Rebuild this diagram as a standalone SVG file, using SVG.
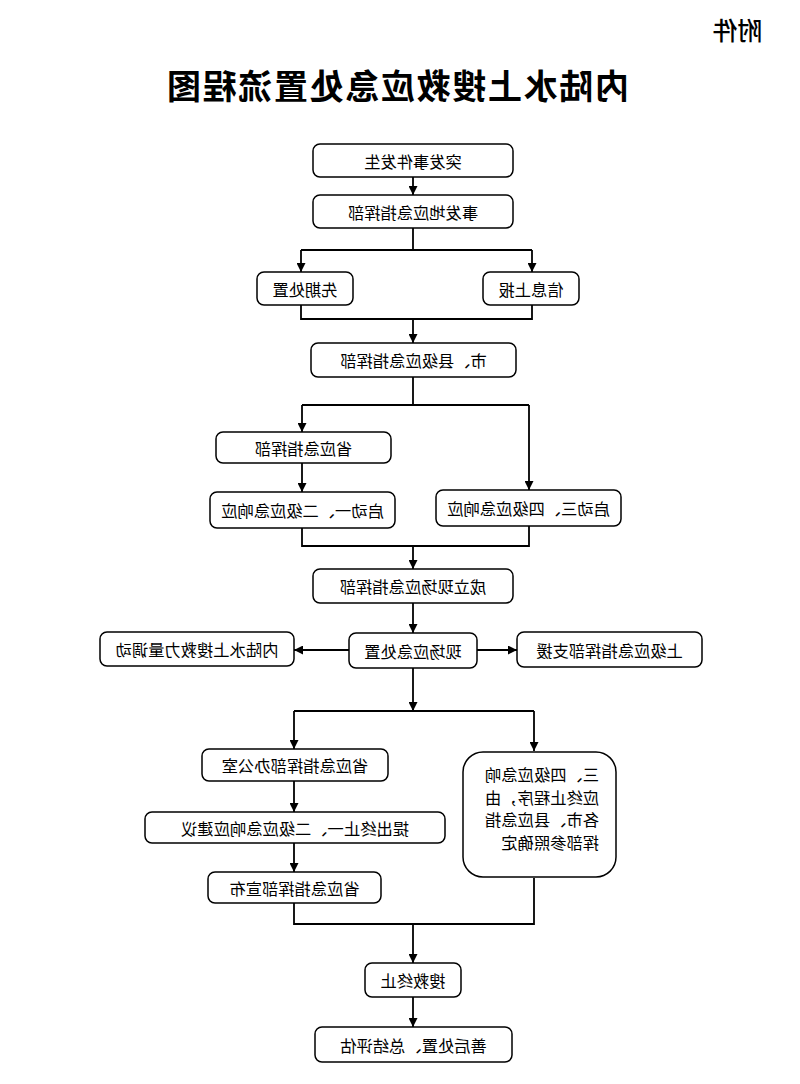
<svg xmlns="http://www.w3.org/2000/svg" width="800" height="1084" viewBox="0 0 800 1084">
<style>
.box{fill:#fff;stroke:#000;stroke-width:1.5}
.ln{fill:none;stroke:#000;stroke-width:1.8}
.t{font-family:"Noto Sans CJK SC","Noto Sans CJK JP",sans-serif;font-size:16.3px;fill:#000;text-anchor:middle;dominant-baseline:central}
.tl{font-family:"Noto Sans CJK SC","Noto Sans CJK JP",sans-serif;font-size:16.3px;fill:#000;text-anchor:start;dominant-baseline:central}
</style>
<defs>
<marker id="ah" viewBox="0 0 10 10" refX="10" refY="5" markerWidth="9" markerHeight="9" markerUnits="userSpaceOnUse" orient="auto">
<path d="M0,0 L10,5 L0,10 Z" fill="#000"/>
</marker>
</defs>
<rect width="800" height="1084" fill="#fff"/>

<g id="connectors">
<path class="ln" d="M413,177 V195" marker-end="url(#ah)"/>
<path class="ln" d="M413,228 V250 M301,250 H532"/>
<path class="ln" d="M301,250 V272" marker-end="url(#ah)"/>
<path class="ln" d="M532,250 V272" marker-end="url(#ah)"/>
<path class="ln" d="M301,305 V319 H532 V305"/>
<path class="ln" d="M413,319 V343" marker-end="url(#ah)"/>
<path class="ln" d="M413,377 V405 M302,405 H529"/>
<path class="ln" d="M302,405 V432" marker-end="url(#ah)"/>
<path class="ln" d="M529,405 V490" marker-end="url(#ah)"/>
<path class="ln" d="M302,463 V492" marker-end="url(#ah)"/>
<path class="ln" d="M302,528 V546 H529 V526"/>
<path class="ln" d="M413,546 V569" marker-end="url(#ah)"/>
<path class="ln" d="M413,603 V633" marker-end="url(#ah)"/>
<path class="ln" d="M349,650 H294" marker-end="url(#ah)"/>
<path class="ln" d="M477,650 H517" marker-end="url(#ah)"/>
<path class="ln" d="M413,668 V711" marker-end="url(#ah)"/>
<path class="ln" d="M294,711 H534"/>
<path class="ln" d="M294,711 V749" marker-end="url(#ah)"/>
<path class="ln" d="M534,711 V751" marker-end="url(#ah)"/>
<path class="ln" d="M294,781 V812" marker-end="url(#ah)"/>
<path class="ln" d="M294,843 V872" marker-end="url(#ah)"/>
<path class="ln" d="M294,903 V924 H534 V878"/>
<path class="ln" d="M413,924 V963" marker-end="url(#ah)"/>
<path class="ln" d="M413,997 V1027" marker-end="url(#ah)"/>
</g>

<g id="n1"><rect class="box" x="313" y="144" width="200" height="33" rx="7"/></g>
<g id="n2"><rect class="box" x="313" y="195" width="200" height="33" rx="7"/></g>
<g id="n3"><rect class="box" x="257" y="272" width="96" height="33" rx="7"/></g>
<g id="n4"><rect class="box" x="483" y="272" width="96" height="33" rx="7"/></g>
<g id="n5"><rect class="box" x="311" y="343" width="205" height="34" rx="7"/></g>
<g id="n6"><rect class="box" x="216" y="432" width="175" height="31" rx="7"/></g>
<g id="n7"><rect class="box" x="210" y="492" width="185" height="36" rx="7"/></g>
<g id="n8"><rect class="box" x="436" y="490" width="185" height="36" rx="7"/></g>
<g id="n9"><rect class="box" x="313" y="569" width="200" height="34" rx="7"/></g>
<g id="n10"><rect class="box" x="349" y="633" width="128" height="35" rx="7"/></g>
<g id="n11"><rect class="box" x="100" y="632" width="194" height="34" rx="7"/></g>
<g id="n12"><rect class="box" x="517" y="632" width="185" height="35" rx="7"/></g>
<g id="n13"><rect class="box" x="202" y="749" width="186" height="32" rx="7"/></g>
<g id="n14"><rect class="box" x="145" y="812" width="300" height="31" rx="7"/></g>
<g id="n15"><rect class="box" x="208" y="872" width="173" height="31" rx="7"/></g>
<g id="n16"><rect class="box" x="463" y="752" width="153" height="125" rx="20"/></g>
<g id="n17"><rect class="box" x="365" y="963" width="96" height="34" rx="7"/></g>
<g id="n18"><rect class="box" x="315" y="1027" width="197" height="35" rx="7"/></g>

<g id="labels" transform="translate(800,0) scale(-1,1)">
<text x="62.5" y="28.5" font-family="'Noto Sans CJK SC',sans-serif" font-size="25" font-weight="500" text-anchor="middle" dominant-baseline="central">附件</text>
<text x="404" y="84" font-family="'Noto Sans CJK SC',sans-serif" font-size="34" font-weight="700" letter-spacing="4" text-anchor="middle" dominant-baseline="central" textLength="466" lengthAdjust="spacing">内陆水上搜救应急处置流程图</text>
<text class="t" x="387" y="160.5">突发事件发生</text>
<text class="t" x="387" y="211.5">事发地应急指挥部</text>
<text class="t" x="495" y="288.5">先期处置</text>
<text class="t" x="269" y="288.5">信息上报</text>
<text class="t" x="386.5" y="360">市、县级应急指挥部</text>
<text class="t" x="496.5" y="447.5">省应急指挥部</text>
<text class="t" x="497.5" y="510">启动一、二级应急响应</text>
<text class="t" x="271.5" y="508">启动三、四级应急响应</text>
<text class="t" x="387" y="586">成立现场应急指挥部</text>
<text class="t" x="387" y="650.5">现场应急处置</text>
<text class="t" x="603" y="649">内陆水上搜救力量调动</text>
<text class="t" x="190.5" y="649.5">上级应急指挥部支援</text>
<text class="t" x="505" y="765">省应急指挥部办公室</text>
<text class="t" x="505" y="827.5">提出终止一、二级应急响应建议</text>
<text class="t" x="505.5" y="887.5">省应急指挥部宣布</text>
<text class="tl" x="201" y="774">三、四级应急响</text>
<text class="tl" x="201" y="796.5">应终止程序，由</text>
<text class="tl" x="201" y="819">各市、县应急指</text>
<text class="tl" x="201" y="841.5">挥部参照确定</text>
<text class="t" x="387" y="980">搜救终止</text>
<text class="t" x="386.5" y="1044.5">善后处置、总结评估</text>
</g>
</svg>
